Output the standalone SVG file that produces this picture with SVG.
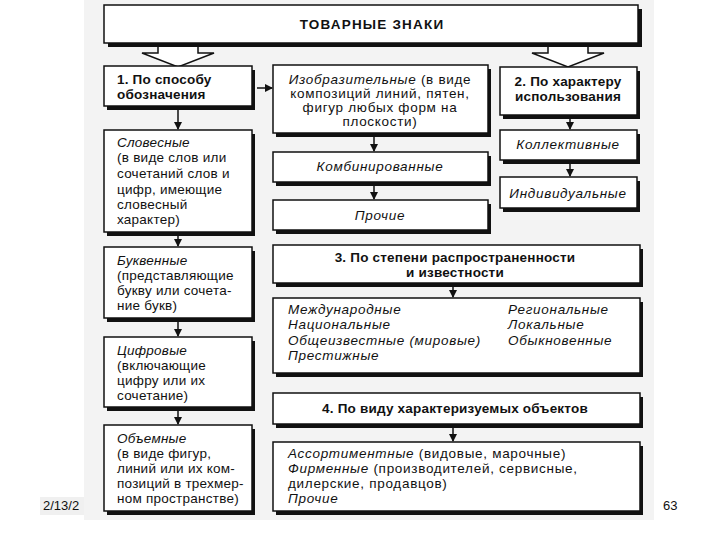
<svg xmlns="http://www.w3.org/2000/svg" width="720" height="540" viewBox="0 0 720 540">
<style>
.box{fill:#fff;stroke:#111;stroke-width:1.5}
.sh{fill:#111}
.t{font-family:"Liberation Sans",Arial,sans-serif;font-size:13.5px;fill:#111;letter-spacing:0.7px}
.l{letter-spacing:0.25px}
.b{font-weight:bold;letter-spacing:0.2px}
.i{font-style:italic}
.c{text-anchor:middle}
.ln{stroke:#111;stroke-width:1.5;fill:none;marker-end:url(#ah)}
.big{fill:#fff;stroke:#111;stroke-width:1.5}
.ft{font-family:"Liberation Sans",Arial,sans-serif;font-size:13px;fill:#111}
</style>
<defs>
<marker id="ah" markerUnits="userSpaceOnUse" markerWidth="8" markerHeight="8" refX="7" refY="4" orient="auto">
<path d="M0,0 L8,4 L0,8 z" fill="#111"/>
</marker>
</defs>
<rect x="84" y="0" width="570" height="520" fill="#f3f3f3"/>
<rect x="40" y="497" width="44" height="18" fill="#f0f0f0"/>
<text class="ft" x="43" y="510">2/13/2</text>
<text class="ft" x="663" y="510">63</text>

<g id="title">
<rect class="sh" x="108" y="9" width="534" height="38"/>
<rect class="box" x="104" y="5" width="534" height="38"/>
<text class="t b c" x="372" y="29" style="letter-spacing:1.2px">ТОВАРНЫЕ  ЗНАКИ</text>
</g>

<g id="connectors">
<path class="big" d="M158,47 L158,53 L142,53 L178,67 L214,53 L198,53 L198,47"/>
<path class="big" d="M548,47 L548,53 L532,53 L568,67 L604,53 L588,53 L588,47"/>
<line class="ln" x1="257" y1="88" x2="272" y2="88"/>
<line class="ln" x1="178" y1="110" x2="178" y2="129"/>
<line class="ln" x1="178" y1="236" x2="178" y2="246"/>
<line class="ln" x1="178" y1="322" x2="178" y2="336"/>
<line class="ln" x1="178" y1="411" x2="178" y2="424"/>
<line class="ln" x1="374" y1="137" x2="374" y2="151"/>
<line class="ln" x1="374" y1="186" x2="374" y2="199"/>
<line class="ln" x1="570" y1="119" x2="570" y2="129"/>
<line class="ln" x1="570" y1="164" x2="570" y2="176"/>
<line class="ln" x1="453" y1="287" x2="453" y2="297"/>
<line class="ln" x1="453" y1="428" x2="453" y2="441"/>
</g>

<g id="n1">
<rect class="sh" x="107" y="70" width="148" height="40"/>
<rect class="box" x="104" y="66" width="148" height="40"/>
<text class="t b" x="117" y="84">1. По способу</text>
<text class="t b" x="117" y="99">обозначения</text>
</g>

<g id="slov">
<rect class="sh" x="107" y="134" width="148" height="102"/>
<rect class="box" x="104" y="130" width="148" height="102"/>
<text class="t l i" x="117" y="147">Словесные</text>
<text class="t l" x="117" y="162">(в виде слов или</text>
<text class="t l" x="117" y="178">сочетаний слов и</text>
<text class="t l" x="117" y="194">цифр, имеющие</text>
<text class="t l" x="117" y="209">словесный</text>
<text class="t l" x="117" y="224">характер)</text>
</g>

<g id="bukv">
<rect class="sh" x="107" y="251" width="148" height="71"/>
<rect class="box" x="104" y="247" width="148" height="71"/>
<text class="t l i" x="117" y="265">Буквенные</text>
<text class="t l" x="117" y="280">(представляющие</text>
<text class="t l" x="117" y="295">букву или сочета-</text>
<text class="t l" x="117" y="310">ние букв)</text>
</g>

<g id="cifr">
<rect class="sh" x="107" y="341" width="148" height="70"/>
<rect class="box" x="104" y="337" width="148" height="70"/>
<text class="t l i" x="117" y="355">Цифровые</text>
<text class="t l" x="117" y="370">(включающие</text>
<text class="t l" x="117" y="385">цифру или их</text>
<text class="t l" x="117" y="400">сочетание)</text>
</g>

<g id="obem">
<rect class="sh" x="107" y="429" width="148" height="86"/>
<rect class="box" x="104" y="425" width="148" height="86"/>
<text class="t l i" x="117" y="443">Объемные</text>
<text class="t l" x="117" y="458">(в виде фигур,</text>
<text class="t l" x="117" y="473">линий или их ком-</text>
<text class="t l" x="117" y="488">позиций в трехмер-</text>
<text class="t l" x="117" y="503">ном пространстве)</text>
</g>

<g id="izob">
<rect class="sh" x="276" y="69" width="215" height="68"/>
<rect class="box" x="273" y="65" width="215" height="68"/>
<text class="t c" x="380" y="84"><tspan class="i">Изобразительные</tspan> (в виде</text>
<text class="t c" x="380" y="98">композиций линий, пятен,</text>
<text class="t c" x="380" y="112">фигур любых форм на</text>
<text class="t c" x="380" y="126">плоскости)</text>
</g>

<g id="komb">
<rect class="sh" x="276" y="156" width="215" height="30"/>
<rect class="box" x="273" y="152" width="215" height="30"/>
<text class="t i c" x="380" y="171">Комбинированные</text>
</g>

<g id="proch">
<rect class="sh" x="276" y="204" width="215" height="30"/>
<rect class="box" x="273" y="200" width="215" height="30"/>
<text class="t i c" x="380" y="220">Прочие</text>
</g>

<g id="n2">
<rect class="sh" x="503" y="71" width="137" height="48"/>
<rect class="box" x="500" y="67" width="137" height="48"/>
<text class="t b c" x="568" y="86">2. По характеру</text>
<text class="t b c" x="568" y="101">использования</text>
</g>

<g id="koll">
<rect class="sh" x="503" y="134" width="137" height="30"/>
<rect class="box" x="500" y="130" width="137" height="30"/>
<text class="t i c" x="568" y="149">Коллективные</text>
</g>

<g id="indiv">
<rect class="sh" x="503" y="181" width="137" height="31"/>
<rect class="box" x="500" y="177" width="137" height="31"/>
<text class="t i c" x="568" y="198">Индивидуальные</text>
</g>

<g id="n3">
<rect class="sh" x="276" y="249" width="367" height="38"/>
<rect class="box" x="273" y="245" width="367" height="38"/>
<text class="t b c" x="455" y="262">3. По степени распространенности</text>
<text class="t b c" x="455" y="277">и известности</text>
</g>

<g id="n3list">
<rect class="sh" x="276" y="302" width="367" height="75"/>
<rect class="box" x="273" y="298" width="367" height="75"/>
<text class="t i" x="288" y="314">Международные</text>
<text class="t i" x="288" y="329">Национальные</text>
<text class="t i" x="288" y="345">Общеизвестные (мировые)</text>
<text class="t i" x="288" y="360">Престижные</text>
<text class="t i" x="508" y="314">Региональные</text>
<text class="t i" x="508" y="329">Локальные</text>
<text class="t i" x="508" y="345">Обыкновенные</text>
</g>

<g id="n4">
<rect class="sh" x="276" y="397" width="367" height="31"/>
<rect class="box" x="273" y="393" width="367" height="31"/>
<text class="t b c" x="455" y="413">4. По виду характеризуемых объектов</text>
</g>

<g id="n4list">
<rect class="sh" x="276" y="446" width="367" height="69"/>
<rect class="box" x="273" y="442" width="367" height="69"/>
<text class="t" x="288" y="458"><tspan class="i">Ассортиментные</tspan> (видовые, марочные)</text>
<text class="t" x="288" y="473"><tspan class="i">Фирменные</tspan> (производителей, сервисные,</text>
<text class="t" x="288" y="488">дилерские, продавцов)</text>
<text class="t i" x="288" y="503">Прочие</text>
</g>
</svg>
